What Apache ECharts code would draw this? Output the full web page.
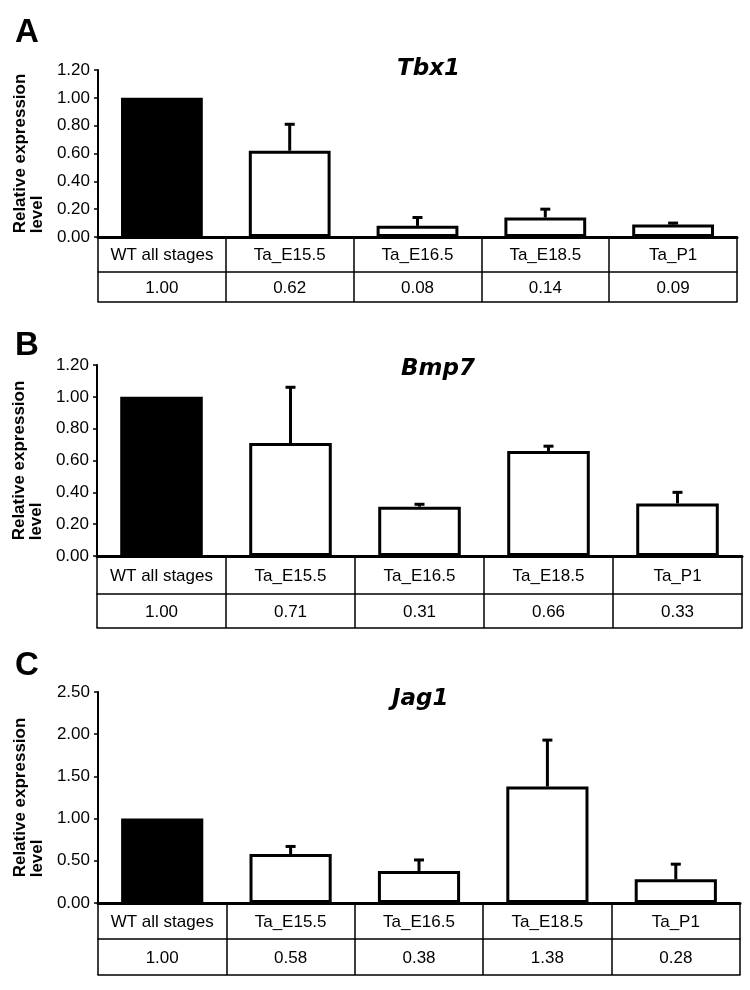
<!DOCTYPE html>
<html><head><meta charset="utf-8">
<script src="https://cdn.jsdelivr.net/npm/echarts@6/dist/echarts.min.js"></script>
<style>html,body{margin:0;padding:0;background:#fff}#c{width:750px;height:990px}</style>
</head><body><div id="c"></div>
<script>
const categories = ['WT all stages', 'Ta_E15.5', 'Ta_E16.5', 'Ta_E18.5', 'Ta_P1'];
const tbx1 = [1.00, 0.62, 0.08, 0.14, 0.09];
const tbx1Err = [0, 0.19, 0.06, 0.06, 0.01];
const bmp7 = [1.00, 0.71, 0.31, 0.66, 0.33];
const bmp7Err = [0, 0.35, 0.015, 0.03, 0.07];
const jag1 = [1.00, 0.58, 0.38, 1.38, 0.28];
const jag1Err = [0, 0.09, 0.13, 0.55, 0.18];
const panelLetters = ['A', 'B', 'C'];
const geneNames = ['Tbx1', 'Bmp7', 'Jag1'];
const yMax = [1.2, 1.2, 2.5];
const yInterval = [0.2, 0.2, 0.5];
const yAxisNameLines = ['Relative expression', 'level'];

const panels = [
  {vals: tbx1, err: tbx1Err, grid: {left: 98, right: 13, top: 70, height: 167}, row: 35, bot: 65, letterTop: 16, titleLeft: 397, titleTop: 58},
  {vals: bmp7, err: bmp7Err, grid: {left: 97, right: 8, top: 365, height: 191}, row: 38, bot: 72, letterTop: 329, titleLeft: 401, titleTop: 358},
  {vals: jag1, err: jag1Err, grid: {left: 98, right: 10, top: 692, height: 211}, row: 36, bot: 72, letterTop: 649, titleLeft: 392, titleTop: 688}
];

const FONT = 'Liberation Sans, Arial, sans-serif';
const grids = [], xAxes = [], yAxes = [], series = [], titles = [];
const nameStyle = {fontFamily: FONT, fontWeight: 'bold', fontSize: 17, color: '#000', lineHeight: 17};

panels.forEach((p, i) => {
  grids.push(p.grid);
  titles.push({text: panelLetters[i], left: 15, top: p.letterTop, padding: 0,
    textStyle: {fontFamily: FONT, fontWeight: 'bold', fontSize: 33, color: '#000'}});
  titles.push({text: geneNames[i], left: p.titleLeft, top: p.titleTop, padding: 0,
    textStyle: {fontFamily: 'DejaVu Sans', fontWeight: 'bold', fontStyle: 'italic', fontSize: 23, color: '#000'}});
  const base = xAxes.length;
  // row 1: category names, with column dividers as long ticks
  xAxes.push({type: 'category', gridIndex: i, data: categories, position: 'bottom', offset: 0,
    axisLine: {show: true, lineStyle: {color: '#000', width: 3}},
    axisTick: {show: true, length: p.bot, lineStyle: {color: '#000', width: 1.5}},
    axisLabel: {interval: 0, margin: (p.row - 17) / 2 + 1, fontFamily: FONT, fontSize: 17, color: '#000'}});
  // row 2: values
  xAxes.push({type: 'category', gridIndex: i, data: p.vals.map(v => v.toFixed(2)), position: 'bottom', offset: p.row,
    axisLine: {show: true, lineStyle: {color: '#000', width: 1.5}},
    axisTick: {show: false},
    axisLabel: {interval: 0, margin: (p.bot - p.row - 17) / 2 + 1, fontFamily: FONT, fontSize: 17, color: '#000'}});
  // bottom border
  xAxes.push({type: 'category', gridIndex: i, data: categories, position: 'bottom', offset: p.bot,
    axisLine: {show: true, lineStyle: {color: '#000', width: 1.5}},
    axisTick: {show: false}, axisLabel: {show: false}});
  yAxes.push({type: 'value', gridIndex: i, min: 0, max: yMax[i], interval: yInterval[i],
    name: '{a|' + yAxisNameLines[0] + '}\n{b|' + yAxisNameLines[1] + '}',
    nameLocation: 'middle', nameGap: 52, nameRotate: 90,
    nameTextStyle: {...nameStyle, rich: {a: {...nameStyle}, b: {...nameStyle, align: 'left'}}},
    axisLine: {show: true, lineStyle: {color: '#000', width: 2}},
    axisTick: {show: true, length: 4, lineStyle: {color: '#000', width: 1.5}},
    splitLine: {show: false},
    axisLabel: {formatter: v => v.toFixed(2), fontFamily: FONT, fontSize: 17, color: '#000', margin: 8}});
  series.push({type: 'bar', xAxisIndex: base, yAxisIndex: i, barWidth: '64%',
    data: p.vals.map((v, k) => ({value: v, itemStyle: k === 0
      ? {color: '#000', borderColor: '#000', borderWidth: 2.5}
      : {color: '#fff', borderColor: '#000', borderWidth: 3}})),
    silent: true, animation: false});
  series.push({type: 'custom', xAxisIndex: base, yAxisIndex: i, z: 5, animation: false, silent: true,
    dimensions: ['x', 'y', 'e'], encode: {x: 0, y: 1},
    data: p.vals.map((v, k) => [k, v, p.err[k]]),
    renderItem: (params, api) => {
      const e = api.value(2);
      if (!e) return null;
      const b = api.coord([api.value(0), api.value(1)]);
      const t = api.coord([api.value(0), api.value(1) + e]);
      const st = {stroke: '#000', lineWidth: 3};
      return {type: 'group', children: [
        {type: 'line', shape: {x1: b[0], y1: b[1], x2: t[0], y2: t[1]}, style: st},
        {type: 'line', shape: {x1: t[0] - 5, y1: t[1], x2: t[0] + 5, y2: t[1]}, style: st}
      ]};
    }});
});

const chart = echarts.init(document.getElementById('c'));
chart.setOption({backgroundColor: '#fff', animation: false, title: titles, grid: grids,
  xAxis: xAxes, yAxis: yAxes, series: series});
</script></body></html>
